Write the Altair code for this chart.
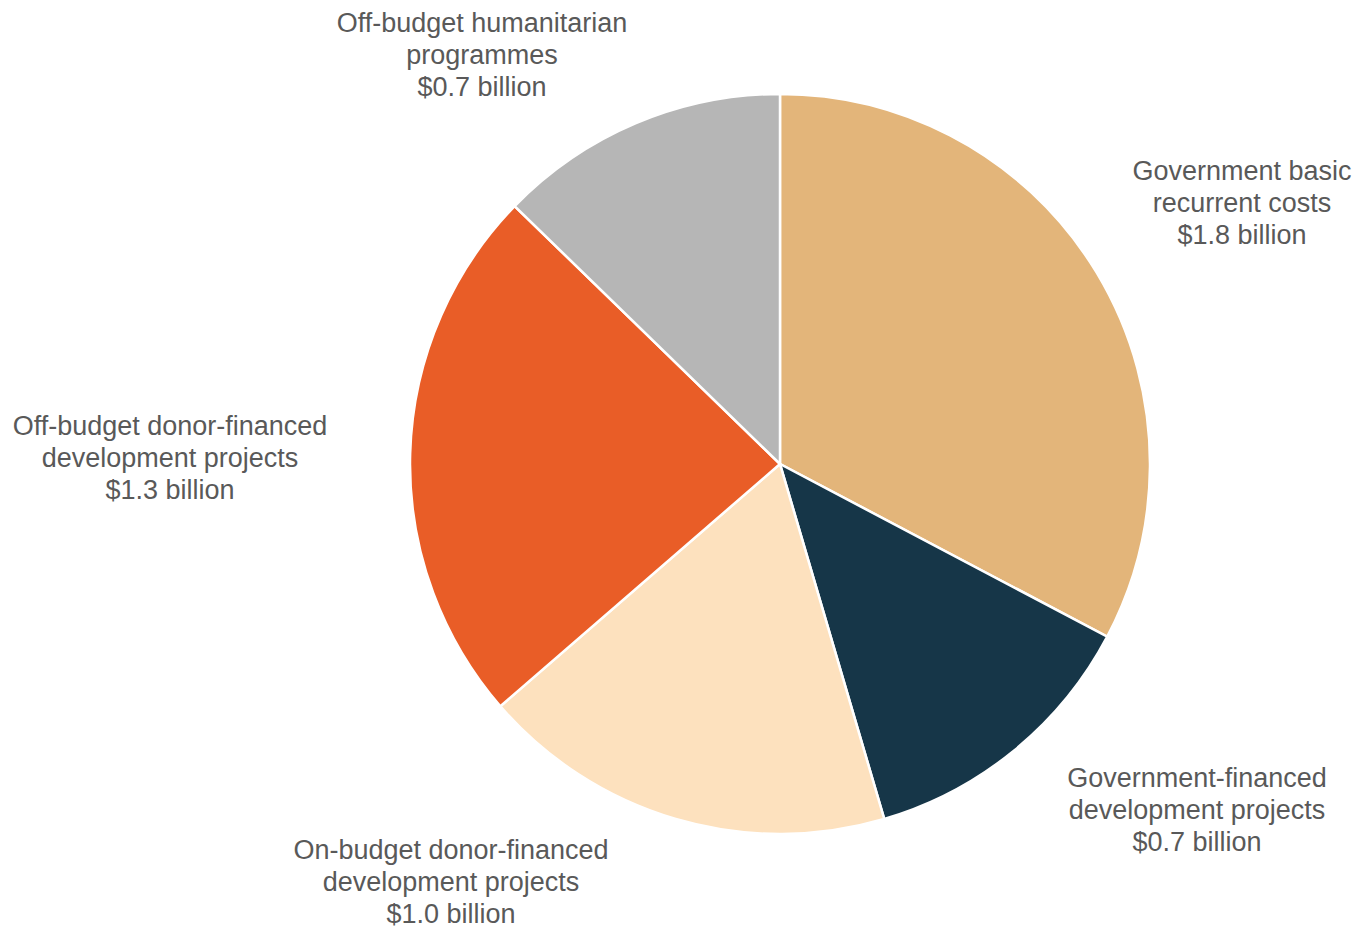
import altair as alt
import pandas as pd

categories = [
    "Government basic recurrent costs",
    "Government-financed development projects",
    "On-budget donor-financed development projects",
    "Off-budget donor-financed development projects",
    "Off-budget humanitarian programmes",
]
values = [1.8, 0.7, 1.0, 1.3, 0.7]
label_lines = [
    ["Government basic", "recurrent costs", "$1.8 billion"],
    ["Government-financed", "development projects", "$0.7 billion"],
    ["On-budget donor-financed", "development projects", "$1.0 billion"],
    ["Off-budget donor-financed", "development projects", "$1.3 billion"],
    ["Off-budget humanitarian", "programmes", "$0.7 billion"],
]
colors = ["#E3B57A", "#163648", "#FDE1BE", "#E95D27", "#B6B6B6"]

# label anchor layout (pixels inside the chart, first line centre)
label_x = [1234, 1189, 443, 162, 474]
label_y = [164, 771, 843, 419, 16]

pie_df = pd.DataFrame({"category": categories, "value": values, "idx": list(range(len(values)))})
lab_df = pd.DataFrame({"category": categories, "lines": label_lines, "lx": label_x, "ly": label_y})

CX, CY = 772, 456

arcs = alt.Chart(pie_df).mark_arc(outerRadius=370, stroke="white", strokeWidth=2.5).encode(
    theta=alt.Theta("value:Q", stack=True),
    color=alt.Color("category:N", scale=alt.Scale(domain=categories, range=colors), legend=None),
    order=alt.Order("idx:Q"),
    x=alt.value(CX),
    y=alt.value(CY),
)

labels = alt.Chart(lab_df).mark_text(
    font="Liberation Sans", fontSize=27, lineHeight=32, color="#595959",
    align="center", baseline="middle",
).encode(
    x=alt.X("lx:Q", scale=None),
    y=alt.Y("ly:Q", scale=None),
    text="lines",
)

chart = alt.layer(arcs, labels).properties(
    width=1356, height=922, padding=0, background="white",
    autosize=alt.AutoSizeParams(type="none"),
).configure_view(strokeWidth=0, stroke="transparent")

chart.save("out.html", embed_options={"renderer": "svg", "actions": False})
